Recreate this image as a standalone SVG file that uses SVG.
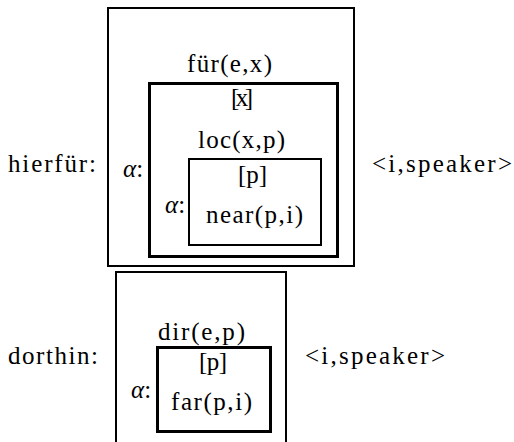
<svg xmlns="http://www.w3.org/2000/svg" width="514" height="442" viewBox="0 0 514 442">
<style>
text{font-family:'Liberation Serif','DejaVu Serif',serif;font-size:25px;fill:#000}
.a{font-style:italic}
.b{fill:none;stroke:#000}
.t2{stroke-width:2}
.t3{stroke-width:3}
</style>
<rect width="514" height="442" fill="#fff"/>
<g id="hierfuer" font-family="Liberation Serif, serif">
<text x="8" y="172" textLength="88" lengthAdjust="spacing">hierfür:</text>
<rect class="b t2" x="108" y="8" width="246" height="258"/>
<text x="187" y="72" textLength="85" lengthAdjust="spacing">für(e,x)</text>
<g id="box-x">
<rect class="b t3" x="149.5" y="83.5" width="188" height="173"/>
<text x="231" y="106" textLength="22" lengthAdjust="spacing">[x]</text>
<text x="198" y="148" textLength="87" lengthAdjust="spacing">loc(x,p)</text>
<text x="123" y="177"><tspan class="a">α</tspan>:</text>
<g id="box-p1">
<rect class="b t2" x="189" y="159" width="132" height="86"/>
<text x="238" y="183" textLength="29" lengthAdjust="spacing">[p]</text>
<text x="206" y="223" textLength="97" lengthAdjust="spacing">near(p,i)</text>
<text x="165" y="213"><tspan class="a">α</tspan>:</text>
</g>
</g>
<text x="372" y="172" textLength="140" lengthAdjust="spacing">&lt;i,speaker&gt;</text>
</g>
<g id="dorthin" font-family="Liberation Serif, serif">
<text x="8" y="364" textLength="90" lengthAdjust="spacing">dorthin:</text>
<path class="b t2" d="M116,444 V272 H286 V444"/>
<text x="158" y="340" textLength="87" lengthAdjust="spacing">dir(e,p)</text>
<g id="box-p2">
<rect class="b t3" x="157.5" y="347.5" width="113" height="84"/>
<text x="199" y="370" textLength="28" lengthAdjust="spacing">[p]</text>
<text x="171" y="410" textLength="81" lengthAdjust="spacing">far(p,i)</text>
<text x="131" y="398"><tspan class="a">α</tspan>:</text>
</g>
<text x="305" y="364" textLength="140" lengthAdjust="spacing">&lt;i,speaker&gt;</text>
</g>
<g id="connectors"></g>
</svg>
